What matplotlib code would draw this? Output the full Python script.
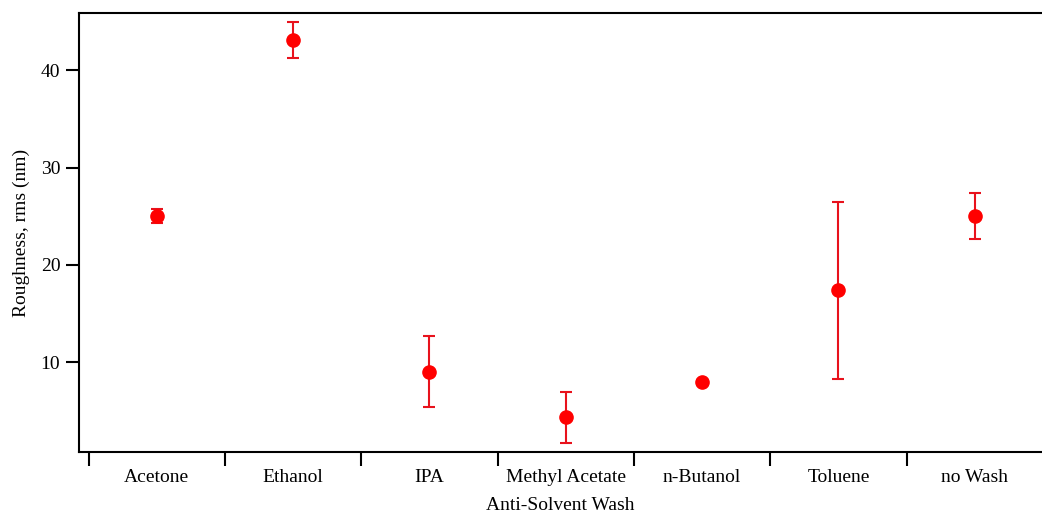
import matplotlib.pyplot as plt
import numpy as np

# === DATA ===
solvents = ["Acetone", "Ethanol", "IPA", "Methyl Acetate", "n-Butanol", "Toluene", "no Wash"]
roughness = [25.0, 43.1, 9.0, 4.3, 7.95, 17.4, 25.0]
roughness_err = [0.7, 1.85, 3.65, 2.65, 0.2, 9.1, 2.35]
y_ticks = [10, 20, 30, 40]

plt.rcParams['font.family'] = ['Liberation Serif', 'DejaVu Serif']

fig = plt.figure(figsize=(10.42, 5.16), dpi=100)
ax = fig.add_axes([79 / 1042, 64 / 516, 963 / 1042, 439 / 516])

x = np.arange(len(solvents))
ax.errorbar(x, roughness, yerr=roughness_err, fmt='o', color='red', ecolor='#e8121c',
            markersize=9.5, elinewidth=1.5, capsize=4.5, capthick=1.5)

# category separators as major ticks, names as minor ticks
ax.set_xlim(-0.57, len(solvents) - 0.507)
ax.set_xticks(x - 0.5)
ax.set_xticklabels([])
ax.set_xticks(x, minor=True)
ax.set_xticklabels(solvents, minor=True, fontsize=14)
ax.tick_params(axis='x', which='major', direction='out', length=10, width=1.5)
ax.tick_params(axis='x', which='minor', length=0, pad=12.5)

ax.set_ylim(0.75, 45.9)
ax.set_yticks(y_ticks)
ax.tick_params(axis='y', direction='out', length=9.5, width=1.5, labelsize=14, pad=4)

for side in ['left', 'top', 'bottom']:
    ax.spines[side].set_linewidth(1.5)
ax.spines['right'].set_visible(False)

ax.set_xlabel("Anti-Solvent Wash", fontsize=14, labelpad=7.5)
ax.set_ylabel("Roughness, rms (nm)", fontsize=14, labelpad=8)

fig.savefig("out.png", dpi=100)
